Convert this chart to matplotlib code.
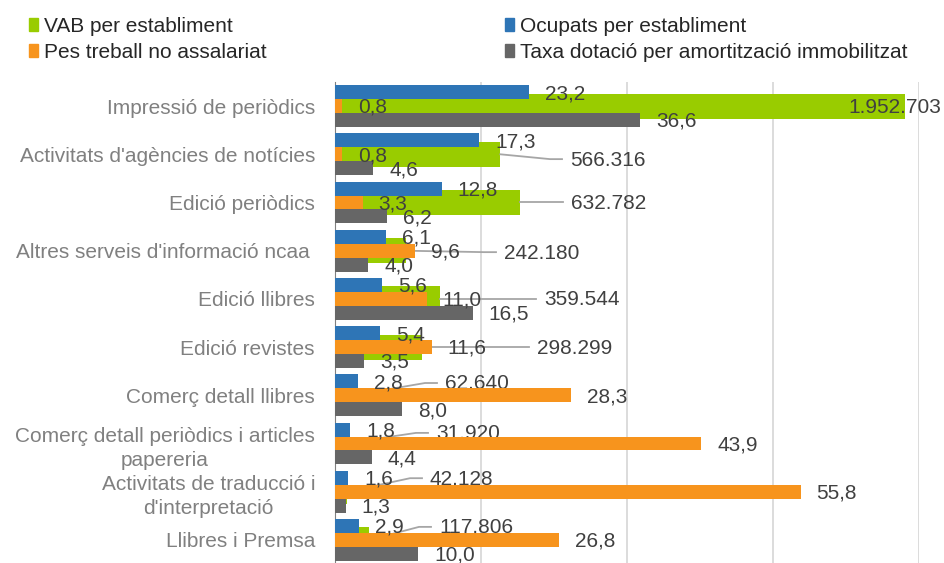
import numpy as np
import matplotlib.pyplot as plt
from matplotlib.patches import Patch

plt.rcParams['font.family'] = ['Liberation Sans', 'DejaVu Sans']

categories = ["Impressió de periòdics",
              "Activitats d'agències de notícies",
              "Edició periòdics",
              "Altres serveis d'informació ncaa ",
              "Edició llibres",
              "Edició revistes",
              "Comerç detall llibres",
              "Comerç detall periòdics i articles\npapereria",
              "Activitats de traducció i\nd'interpretació",
              "Llibres i Premsa"]

vab = [1952703, 566316, 632782, 242180, 359544, 298299, 62640, 31920, 42128, 117806]
ocupats = [23.2, 17.3, 12.8, 6.1, 5.6, 5.4, 2.8, 1.8, 1.6, 2.9]
pes = [0.8, 0.8, 3.3, 9.6, 11.0, 11.6, 28.3, 43.9, 55.8, 26.8]
taxa = [36.6, 4.6, 6.2, 4.0, 16.5, 3.5, 8.0, 4.4, 1.3, 10.0]

# where the VAB labels were dragged to (x on VAB axis, y offset from category)
vab_label_pos = [(1756849, 0.0), (804795, 0.10), (808219, 0.0), (578767, 0.03),
                 (715753, 0.0), (691781, 0.0), (376712, -0.255), (345890, -0.22),
                 (325342, -0.28), (356164, -0.27)]
vab_leader = [False, True, True, True, True, True, True, True, True, True]

GREEN = '#99CC00'
BLUE = '#2E75B6'
ORANGE = '#F7941D'
GREY = '#666666'
LBL = '#404040'
FS = 15

W, H = 944, 563
fig = plt.figure(figsize=(W / 100, H / 100), dpi=100)
ax_l, ax_b, ax_w, ax_h = 335 / W, (H - 564) / H, 584 / W, 482 / H
ax = fig.add_axes([ax_l, ax_b, ax_w, ax_h])
ax2 = ax.twiny()

y = np.arange(len(categories))
bh = 0.29

# VAB on its own scale, drawn underneath
ax.barh(y, vab, height=0.52, color=GREEN, zorder=2)
ax.set_xlim(0, 2000000)
ax.set_xticks([0, 500000, 1000000, 1500000, 2000000])
ax.xaxis.grid(True, color='#D9D9D9', linewidth=1.3, zorder=0)
ax.set_axisbelow(True)
ax.set_ylim(len(categories) - 0.5, -0.5)
ax.set_yticks(y)
ax.set_yticklabels(categories, fontsize=FS, color='#808080', multialignment='center',
                   linespacing=1.35)
ax.tick_params(axis='y', length=0, pad=14.4)
ax.tick_params(axis='x', length=0, labelbottom=False)
for s in ['top', 'right', 'bottom']:
    ax.spines[s].set_visible(False)
ax.spines['left'].set_color('#808080')

ax2.barh(y - bh, ocupats, height=bh, color=BLUE, zorder=3)
ax2.barh(y, pes, height=bh, color=ORANGE, zorder=3)
ax2.barh(y + bh, taxa, height=bh, color=GREY, zorder=3)
ax2.set_xlim(0, 70)
ax2.set_xticks([])
ax2.patch.set_visible(False)
for s in ax2.spines.values():
    s.set_visible(False)


def fmt1(v):
    return f"{v:.1f}".replace('.', ',')


off = 16 * 72 / 100
for vals, dy in [(ocupats, -bh), (pes, 0), (taxa, bh)]:
    for i, v in enumerate(vals):
        ax2.annotate(fmt1(v), (v, i + dy), xytext=(off, -1), textcoords='offset points',
                     ha='left', va='center', fontsize=FS, color=LBL, zorder=5)

px = 2000000 / 584  # VAB units per pixel
for i, v in enumerate(vab):
    lx, ldy = vab_label_pos[i]
    ly = i + ldy
    ax.text(lx, ly + 0.02, f"{v:,}".replace(',', '.'), ha='left', va='center',
            fontsize=FS, color=LBL, zorder=5)
    if vab_leader[i]:
        ax.plot([v, lx - 20 * px, lx - 8 * px], [i, ly, ly], color='#A6A6A6',
                linewidth=1.3, zorder=4, clip_on=False)

handles = [Patch(color=GREEN), Patch(color=ORANGE), Patch(color=BLUE), Patch(color=GREY)]
labels = ['VAB per establiment', 'Pes treball no assalariat',
          'Ocupats per establiment', 'Taxa dotació per amortització immobilitzat']
fig.legend(handles, labels, loc='upper left', bbox_to_anchor=(10 / W, 1 + 2 / H),
           ncol=2, frameon=False, fontsize=FS, handlelength=0.45, handleheight=0.6,
           handletextpad=0.3, labelspacing=0.35, columnspacing=11.4,
           labelcolor='#262626')

fig.savefig('out.png', dpi=100)
